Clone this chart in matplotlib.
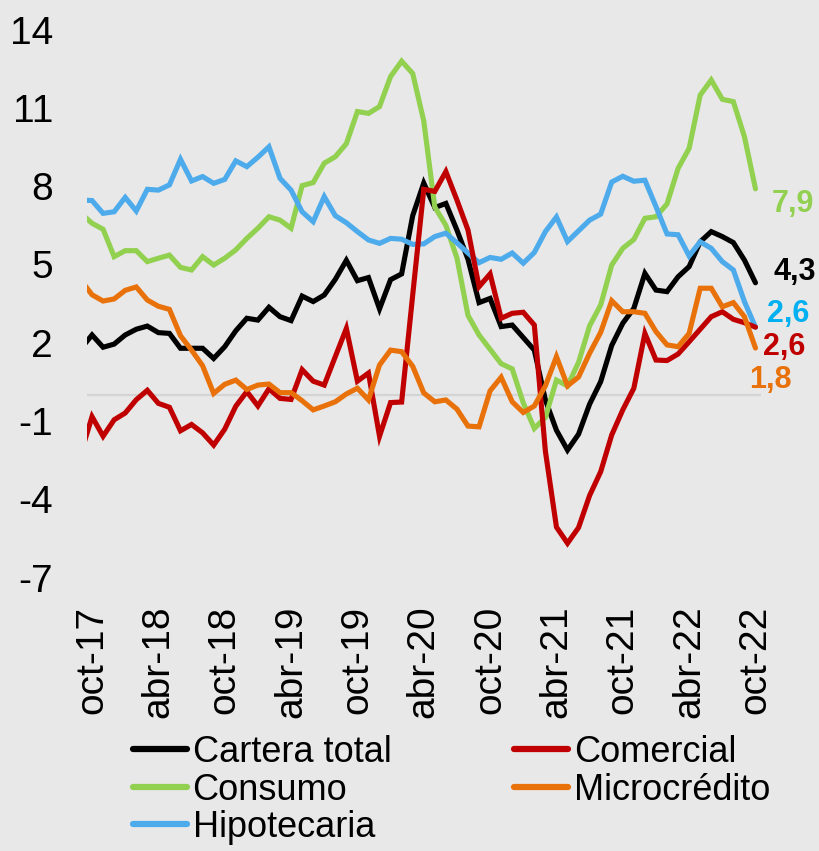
import numpy as np
import matplotlib
matplotlib.use("Agg")
import matplotlib.pyplot as plt

plt.rcParams['font.family'] = ['Liberation Sans', 'DejaVu Sans']

# ---------------- data ----------------
mes = ['ene', 'feb', 'mar', 'abr', 'may', 'jun', 'jul', 'ago', 'sep', 'oct', 'nov', 'dic']
# months from sep-17 to oct-22
month_labels = []
for yr in range(17, 23):
    for m in mes:
        month_labels.append(f"{m}-{yr}")
month_labels = month_labels[month_labels.index('sep-17'):month_labels.index('oct-22') + 1]

cartera = [1.78,
           2.30, 1.83, 1.95, 2.30, 2.52, 2.64, 2.39, 2.36, 1.79, 1.79,
           1.79, 1.40, 1.85, 2.46, 2.94, 2.87, 3.36, 3.00, 2.85, 3.79,
           3.58, 3.83, 4.43, 5.16, 4.38, 4.50, 3.30, 4.42, 4.64, 6.87,
           8.12, 7.18, 7.34, 6.32, 5.20, 3.54, 3.70, 2.62, 2.68, 2.20,
           1.72, -0.19, -1.35, -2.11, -1.50, -0.35, 0.51, 1.90, 2.75, 3.32,
           4.66, 4.02, 3.96, 4.53, 4.92, 5.87, 6.26, 6.07, 5.84, 5.17,
           4.30]
comercial = [-2.23,
             -0.83, -1.58, -0.95, -0.69, -0.18, 0.18, -0.32, -0.47, -1.37, -1.13,
             -1.45, -1.92, -1.31, -0.43, 0.13, -0.42, 0.24, -0.13, -0.17, 0.97,
             0.53, 0.38, 1.47, 2.55, 0.53, 0.84, -1.58, -0.29, -0.27, 3.83,
             7.88, 7.80, 8.56, 7.47, 6.32, 4.15, 4.64, 2.94, 3.13, 3.17,
             2.68, -2.15, -5.06, -5.68, -5.08, -3.85, -2.94, -1.53, -0.57, 0.26,
             2.36, 1.34, 1.32, 1.57, 2.04, 2.52, 3.00, 3.19, 2.90, 2.77,
             2.60]
consumo = [6.96,
           6.58, 6.35, 5.30, 5.53, 5.53, 5.11, 5.24, 5.36, 4.89, 4.79,
           5.30, 4.98, 5.24, 5.56, 6.00, 6.39, 6.83, 6.70, 6.39, 8.02,
           8.14, 8.88, 9.13, 9.63, 10.86, 10.79, 11.05, 12.20, 12.79, 12.32,
           10.50, 7.20, 6.50, 5.25, 3.05, 2.30, 1.75, 1.20, 1.00, -0.30,
           -1.28, -0.86, 0.57, 0.35, 1.25, 2.65, 3.45, 4.98, 5.62, 5.96,
           6.77, 6.83, 7.32, 8.68, 9.45, 11.49, 12.07, 11.33, 11.24, 9.90,
           7.90]
microcredito = [4.40,
                3.84, 3.60, 3.68, 4.01, 4.14, 3.64, 3.40, 3.28, 2.27, 1.72,
                1.12, 0.06, 0.41, 0.57, 0.21, 0.38, 0.42, 0.09, 0.09, -0.22,
                -0.57, -0.42, -0.26, 0.04, 0.26, -0.19, 1.15, 1.72, 1.66, 1.10,
                0.08, -0.26, -0.19, -0.54, -1.19, -1.22, 0.16, 0.68, -0.26, -0.67,
                -0.42, 0.35, 1.47, 0.35, 0.69, 1.60, 2.40, 3.61, 3.19, 3.19,
                3.13, 2.43, 1.92, 1.85, 2.36, 4.09, 4.09, 3.38, 3.54, 3.00,
                1.80]
hipotecaria = [7.47,
               7.45, 6.96, 7.02, 7.57, 7.05, 7.88, 7.85, 8.05, 9.03, 8.20,
               8.37, 8.11, 8.26, 8.97, 8.75, 9.11, 9.51, 8.30, 7.85, 7.02,
               6.64, 7.60, 6.87, 6.60, 6.26, 5.94, 5.81, 6.00, 5.97, 5.77,
               5.79, 6.07, 6.20, 5.83, 5.44, 5.07, 5.27, 5.20, 5.44, 5.05,
               5.46, 6.26, 6.82, 5.88, 6.29, 6.70, 6.93, 8.16, 8.38, 8.19,
               8.23, 7.22, 6.17, 6.14, 5.33, 5.87, 5.62, 5.11, 4.79, 3.58,
               2.60]

series_names = ['Cartera total', 'Consumo', 'Hipotecaria', 'Comercial', 'Microcrédito']
series_values = [cartera, consumo, hipotecaria, comercial, microcredito]
line_colors = ['#000000', '#92D050', '#4DABEC', '#C00000', '#E8710A']
label_colors = ['#000000', '#92D050', '#00B0F0', '#C00000', '#E8710A']
label_offsets = [(18, 11), (16, -15), (12, 13), (8, -20), (-6, -32)]  # pixels

yticks = [-7, -4, -1, 2, 5, 8, 11, 14]

# ---------------- figure ----------------
bg = '#E8E8E8'
fig = plt.figure(figsize=(8.19, 8.51), dpi=100, facecolor=bg)
ax = fig.add_axes([86.5 / 819, 1 - 577.7 / 851, (761 - 86.5) / 819, (577.7 - 29.6) / 851])
ax.set_facecolor('none')

x = np.arange(len(month_labels))
ax.axhline(0, color='#D4D4D4', lw=1.6, zorder=1)

handles = []
for name, vals, col in zip(series_names, series_values, line_colors):
    h, = ax.plot(x, vals, color=col, lw=3.7, solid_capstyle='round',
                 solid_joinstyle='miter', label=name, zorder=3)
    handles.append(h)

# end value labels
for vals, col, off in zip(series_values, label_colors, label_offsets):
    ax.annotate(f"{vals[-1]:.1f}".replace('.', ','), xy=(x[-1], vals[-1]),
                xytext=off, textcoords='offset pixels', ha='left', va='center',
                fontsize=22, fontweight='bold', color=col, annotation_clip=False)

ax.set_xlim(0.5, len(month_labels) - 0.5)
ax.set_ylim(-7, 14)
ax.set_yticks(yticks)
ax.set_yticklabels([str(v) for v in yticks])
tick_idx = [i for i, lab in enumerate(month_labels) if lab[:3] in ('oct', 'abr')]
ax.set_xticks(tick_idx)
ax.set_xticklabels([month_labels[i] for i in tick_idx], rotation=90)

ax.tick_params(axis='y', length=0, pad=24, labelsize=28, colors='#000000')
ax.tick_params(axis='x', length=0, pad=20, labelsize=28, colors='#000000')
for sp in ax.spines.values():
    sp.set_visible(False)

leg = fig.legend(handles=handles, labels=series_names, ncol=2, frameon=False,
                 loc='upper left', bbox_to_anchor=(133 / 819, 1 - 735 / 851),
                 fontsize=26, handlelength=1.5, handletextpad=0.15,
                 columnspacing=3.4, labelspacing=0.07, borderpad=0, borderaxespad=0)
for lh in leg.get_lines():
    lh.set_linewidth(4.5)
    lh.set_solid_capstyle('round')

fig.savefig('out.png', dpi=100, facecolor=bg)
